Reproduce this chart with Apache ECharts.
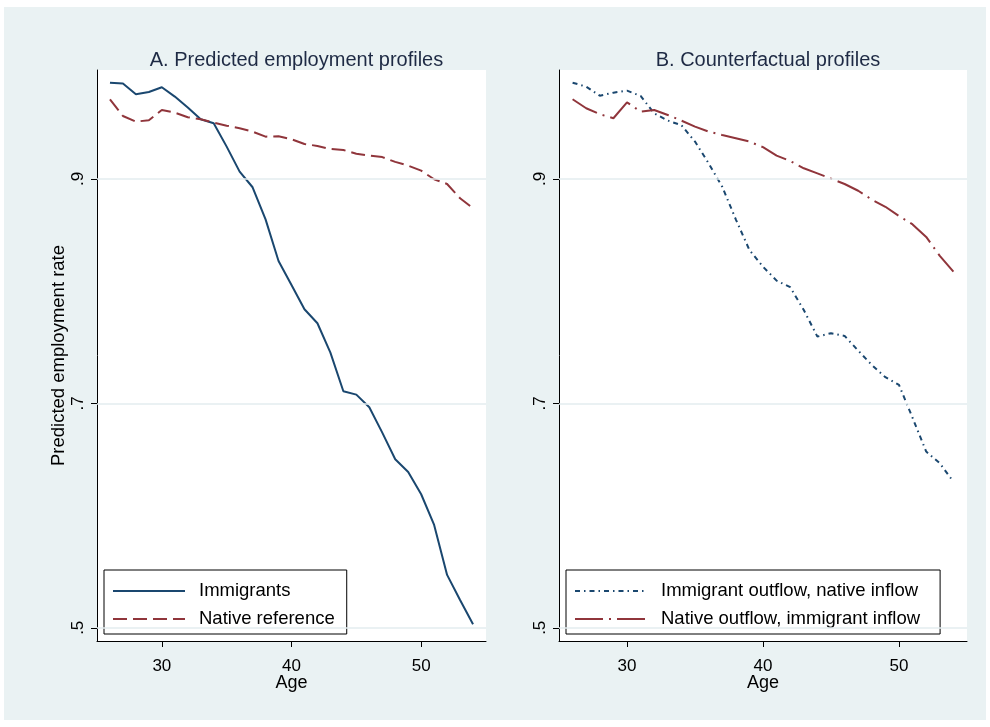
<!DOCTYPE html>
<html>
<head>
<meta charset="utf-8">
<script src="https://cdn.jsdelivr.net/npm/echarts@6/dist/echarts.min.js"></script>
<style>
  html, body { margin: 0; padding: 0; background: #ffffff; }
  #chart { width: 990px; height: 727px; }
</style>
</head>
<body>
<div id="chart"></div>
<script>
// Ages on the horizontal axis
const ages = [26, 27, 28, 29, 30, 31, 32, 33, 34, 35, 36, 37, 38, 39, 40,
              41, 42, 43, 44, 45, 46, 47, 48, 49, 50, 51, 52, 53, 54];

// Panel A: predicted employment profiles
const immigrants = [0.9858, 0.985, 0.9755, 0.9775, 0.9817, 0.9734, 0.9636, 0.9532, 0.9496, 0.9288,
                    0.9065, 0.8926, 0.864, 0.8269, 0.8055, 0.7839, 0.7714, 0.7452, 0.7108, 0.7078,
                    0.6965, 0.6739, 0.6502, 0.6389, 0.619, 0.5916, 0.5471, 0.5248, 0.5031];
const nativeReference = [0.971, 0.9561, 0.9511, 0.9523, 0.9615, 0.9591, 0.955, 0.9532, 0.9502, 0.9475,
                         0.9452, 0.9422, 0.9377, 0.938, 0.9354, 0.9312, 0.9294, 0.9267, 0.9258, 0.9225,
                         0.9208, 0.9195, 0.9152, 0.9119, 0.9074, 0.8997, 0.8955, 0.8828, 0.8739];

// Panel B: counterfactual profiles
const immigrantOutflow = [0.9858, 0.9823, 0.9742, 0.9769, 0.9787, 0.974, 0.9585, 0.952, 0.9479, 0.9333,
                          0.914, 0.8931, 0.864, 0.8367, 0.8218, 0.8094, 0.8035, 0.7832, 0.7595, 0.7625,
                          0.7601, 0.747, 0.7342, 0.7233, 0.7164, 0.687, 0.657, 0.6466, 0.6302];
const nativeOutflow = [0.971, 0.963, 0.9577, 0.9541, 0.9683, 0.96, 0.9615, 0.957, 0.952, 0.9466,
                       0.9422, 0.9392, 0.9363, 0.9333, 0.9283, 0.9208, 0.916, 0.9095, 0.905, 0.9003,
                       0.8955, 0.8895, 0.8816, 0.8752, 0.867, 0.8595, 0.8483, 0.8314, 0.8174];

// Axis ticks
const xTicks = [30, 40, 50];
const yTicks = [0.5, 0.7, 0.9];

const panelTitles = ['A. Predicted employment profiles', 'B. Counterfactual profiles'];
const seriesNames = ['Immigrants', 'Native reference',
                     'Immigrant outflow, native inflow', 'Native outflow, immigrant inflow'];

const FONT = '"Liberation Sans", Arial, Helvetica, sans-serif';
const NAVY = '#1a476f';
const MAROON = '#90353b';
const BG = '#eaf2f3';

const pairs = arr => ages.map((a, i) => [a, arr[i]]);

const chart = echarts.init(document.getElementById('chart'), null, { renderer: 'canvas' });

const grids = [
  { left: 97, top: 70, width: 389, height: 571, show: true, backgroundColor: '#ffffff', borderWidth: 0 },
  { left: 559, top: 70, width: 408, height: 571, show: true, backgroundColor: '#ffffff', borderWidth: 0 }
];

function xAxisFor(i) {
  return {
    gridIndex: i, type: 'value', min: 25, max: 55,
    name: 'Age', nameLocation: 'middle', nameGap: 33, nameMoveOverlap: false,
    nameTextStyle: { fontFamily: FONT, fontSize: 18, color: '#000' },
    axisLine: { show: true, lineStyle: { color: '#000', width: 1 } },
    axisTick: { show: true, length: 6, customValues: xTicks, lineStyle: { color: '#000' } },
    axisLabel: { customValues: xTicks, margin: 17, fontFamily: FONT, fontSize: 17, color: '#000' },
    splitLine: { show: false }
  };
}

function yAxisFor(i) {
  return {
    gridIndex: i, type: 'value', min: 0.4882, max: 0.9971,
    name: i === 0 ? 'Predicted employment rate' : '',
    nameLocation: 'middle', nameGap: 29,
    nameTextStyle: { fontFamily: FONT, fontSize: 18.5, color: '#000' },
    axisLine: { show: true, lineStyle: { color: '#000', width: 1 } },
    axisTick: { show: true, length: 6, customValues: yTicks, lineStyle: { color: '#000' } },
    axisLabel: {
      customValues: yTicks, rotate: 90, margin: 10,
      fontFamily: FONT, fontSize: 17, color: '#000',
      formatter: v => String(Math.round(v * 10) / 10).replace(/^0\./, '.')
    },
    splitLine: { show: false }
  };
}

// Horizontal reference lines at the labelled ticks
function gridLines(i) {
  return {
    type: 'line', xAxisIndex: i, yAxisIndex: i, data: [], z: 1, silent: true,
    markLine: {
      silent: true, symbol: 'none', animation: false,
      label: { show: false },
      lineStyle: { color: '#e3ecef', width: 1.5, type: 'solid' },
      data: yTicks.map(v => ({ yAxis: v }))
    }
  };
}

function lineSeries(name, i, arr, color, dash) {
  return {
    name, type: 'line', xAxisIndex: i, yAxisIndex: i, data: pairs(arr),
    symbol: 'none', showSymbol: false, z: 3, animation: false,
    lineStyle: { color, width: 2, type: dash }, itemStyle: { color }
  };
}

function legendFor(left, names, padRight) {
  return {
    orient: 'vertical', left, top: 570,
    data: names,
    itemWidth: 72, itemHeight: 14, itemGap: 8,
    padding: [11, padRight, 5, 8],
    borderColor: '#000', borderWidth: 1, backgroundColor: '#ffffff',
    itemStyle: { opacity: 0 },
    textStyle: { fontFamily: FONT, fontSize: 18.5, color: '#000', lineHeight: 20, padding: [0, 0, 0, 9] },
    selectedMode: false
  };
}

chart.setOption({
  backgroundColor: '#ffffff',
  animation: false,
  graphic: [{ type: 'rect', shape: { x: 4, y: 7, width: 982, height: 713 }, style: { fill: BG }, z: -10, silent: true }],
  title: [
    { text: panelTitles[0], left: 291.5, top: 45, textAlign: 'center',
      textStyle: { fontFamily: FONT, fontSize: 20, fontWeight: 'normal', color: '#1e2a44' } },
    { text: panelTitles[1], left: 763, top: 45, textAlign: 'center',
      textStyle: { fontFamily: FONT, fontSize: 20, fontWeight: 'normal', color: '#1e2a44' } }
  ],
  grid: grids,
  xAxis: [xAxisFor(0), xAxisFor(1)],
  yAxis: [yAxisFor(0), yAxisFor(1)],
  legend: [
    legendFor(104, [seriesNames[0], seriesNames[1]], 12),
    legendFor(566, [seriesNames[2], seriesNames[3]], 20)
  ],
  series: [
    gridLines(0), gridLines(1),
    lineSeries(seriesNames[0], 0, immigrants, NAVY, 'solid'),
    lineSeries(seriesNames[1], 0, nativeReference, MAROON, [14, 6]),
    lineSeries(seriesNames[2], 1, immigrantOutflow, NAVY, [5, 4, 1.5, 4]),
    lineSeries(seriesNames[3], 1, nativeOutflow, MAROON, [28, 6, 2, 6])
  ]
});
</script>
</body>
</html>
